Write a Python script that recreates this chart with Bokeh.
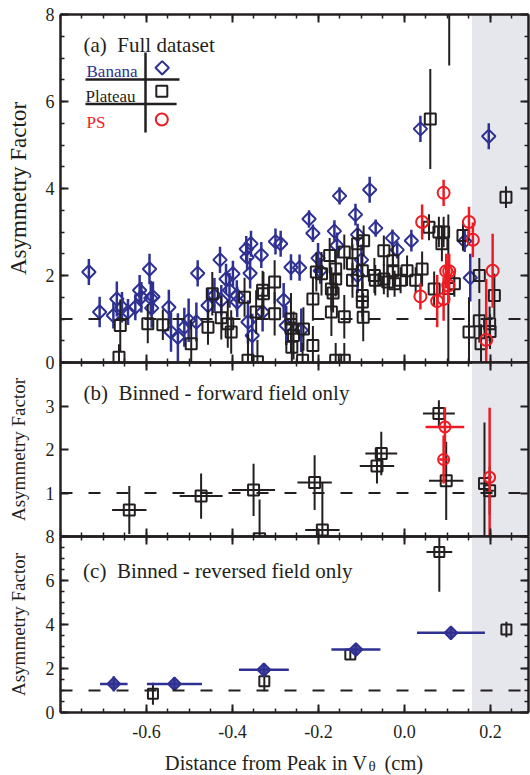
import numpy as np
from bokeh.plotting import figure
from bokeh.models import (LinearAxis, FixedTicker, Range1d, Span, BoxAnnotation,
                          Label, ColumnDataSource, PrintfTickFormatter)
from bokeh.layouts import column
from bokeh.embed import file_html
from bokeh.resources import INLINE
from bokeh.core.properties import value

FONT = "Liberation Serif"
BLUE = "#2E3192"
RED = "#ED1C24"
INK = "#231F20"
SHADE = "#E6E7EC"
NB = "\u00a0"

# ---------------- data ----------------
x_range_vals = (-0.8, 0.2884)
shade_start = 0.157

# Panel (a) full dataset
banana_a_x = [-0.734, -0.709, -0.677, -0.669, -0.657, -0.643, -0.626, -0.616, -0.612, -0.593,
              -0.590, -0.588, -0.585, -0.548, -0.543, -0.527, -0.512, -0.502, -0.484, -0.481,
              -0.457, -0.442, -0.429, -0.426, -0.415, -0.407, -0.399, -0.390, -0.389, -0.368,
              -0.357, -0.366, -0.359, -0.364, -0.354, -0.333, -0.330, -0.300, -0.288, -0.281,
              -0.275, -0.264, -0.244, -0.240, -0.222, -0.213, -0.201, -0.196, -0.163, -0.157,
              -0.151, -0.114, -0.109, -0.100, -0.109, -0.081, -0.067, -0.028, -0.017, 0.016,
              0.037, 0.140, 0.153, 0.196]
banana_a_y = [2.08, 1.16, 1.08, 1.46, 1.27, 1.16, 1.27, 1.66, 1.50, 2.15,
              1.48, 1.25, 1.51, 1.27, 0.70, 0.58, 0.81, 0.97, 0.93, 2.05,
              1.31, 1.54, 2.36, 1.43, 1.92, 1.66, 2.04, 1.54, 1.39, 2.61,
              2.73, 2.42, 2.05, 0.93, 0.62, 2.47, 1.16, 2.78, 2.73, 1.43,
              0.85, 2.19, 2.18, 0.74, 3.30, 2.97, 2.40, 2.11, 3.02, 2.69,
              3.83, 3.40, 2.94, 2.36, 2.00, 3.97, 3.09, 2.86, 2.59, 2.80,
              5.37, 2.79, 1.95, 5.20]
banana_a_err = [0.30, 0.35, 0.30, 0.40, 0.35, 0.30, 0.30, 0.35, 0.35, 0.35,
                0.40, 0.45, 0.35, 0.40, 0.45, 0.55, 0.45, 0.50, 0.45, 0.30,
                0.40, 0.40, 0.30, 0.35, 0.35, 0.40, 0.30, 0.35, 0.35, 0.30,
                0.30, 0.30, 0.35, 0.50, 0.50, 0.30, 0.45, 0.30, 0.30, 0.40,
                0.45, 0.30, 0.30, 0.50, 0.20, 0.20, 0.35, 0.30, 0.25, 0.30,
                0.20, 0.25, 0.25, 0.35, 0.40, 0.30, 0.20, 0.20, 0.20, 0.25,
                0.30, 0.25, 0.55, 0.30]

plateau_a_x = [-0.664, -0.661, -0.597, -0.562, -0.496, -0.457, -0.447, -0.426, -0.411, -0.403,
               -0.372, -0.364, -0.345, -0.342, -0.330, -0.328, -0.302, -0.302, -0.264, -0.264,
               -0.262, -0.258, -0.235, -0.237, -0.213, -0.213, -0.205, -0.193, -0.174, -0.170,
               -0.170, -0.166, -0.160, -0.160, -0.160, -0.140, -0.140, -0.140, -0.121, -0.121,
               -0.109, -0.098, -0.095, -0.098, -0.098, -0.096, -0.070, -0.068, -0.048, -0.048,
               -0.039, -0.027, -0.027, -0.023, -0.009, 0.006, 0.026, 0.041, 0.057, 0.069,
               0.080, 0.091, 0.087, 0.060, 0.104, 0.102, 0.116, 0.136, 0.150, 0.174,
               0.174, 0.178, 0.198, 0.199, 0.209, 0.236]
plateau_a_y = [0.12, 0.85, 0.89, 0.87, 0.43, 0.81, 1.58, 1.03, 0.89, 0.70,
               1.50, 0.05, 1.16, 0.02, 1.66, 1.58, 1.85, 1.12, 1.00, 0.79,
               0.35, 0.62, 0.77, 0.05, 1.46, 0.39, 2.08, 2.04, 2.46, 1.69,
               1.16, 1.60, 2.15, 1.92, 0.05, 2.54, 1.05, 0.05, 2.27, 1.89,
               2.73, 2.11, 2.80, 1.54, 1.39, 1.04, 2.00, 1.89, 2.57, 1.92,
               1.85, 2.34, 2.11, 1.81, 1.89, 2.11, 1.89, 2.15, 3.11, 1.69,
               3.00, 3.00, 2.73, 5.60, 9.50, 1.70, 1.81, 2.92, 0.70, 2.00,
               0.96, 0.43, 0.89, 0.71, 1.54, 3.80]
plateau_a_err = [0.30, 0.60, 0.45, 0.35, 0.55, 0.40, 0.50, 0.50, 0.55, 0.50,
                 0.45, 0.60, 0.50, 0.50, 0.45, 0.50, 0.50, 0.50, 0.60, 0.55,
                 0.50, 0.55, 0.50, 0.40, 0.50, 0.45, 0.45, 0.50, 0.40, 0.50,
                 0.55, 0.45, 0.45, 0.40, 0.40, 0.40, 0.50, 0.40, 0.45, 0.40,
                 0.35, 0.40, 0.35, 0.50, 0.45, 0.55, 0.40, 0.35, 0.35, 0.35,
                 0.35, 0.35, 0.35, 0.30, 0.30, 0.35, 0.30, 0.40, 0.30, 0.40,
                 0.35, 0.35, 0.40, 1.15, 2.67, 1.70, 0.30, 0.35, 0.80, 0.40,
                 0.50, 0.45, 0.40, 0.40, 0.50, 0.25]

ps_a_x = [0.037, 0.041, 0.076, 0.091, 0.091, 0.097, 0.104, 0.102, 0.150, 0.159, 0.190, 0.205]
ps_a_y = [1.52, 3.23, 1.41, 3.90, 1.46, 2.10, 2.10, 1.77, 3.23, 2.82, 0.52, 2.11]
ps_a_err = [0.30, 0.40, 0.60, 0.30, 0.50, 0.40, 0.40, 0.40, 0.35, 0.40, 1.40, 0.85]

# Panel (b) binned, forward field
plateau_b_x = [-0.640, -0.473, -0.351, -0.337, -0.209, -0.191, -0.064, -0.054, 0.080, 0.097, 0.186, 0.198]
plateau_b_y = [0.61, 0.93, 1.07, -0.05, 1.24, 0.15, 1.62, 1.91, 2.83, 1.28, 1.22, 1.05]
plateau_b_xerr = [0.040, 0.050, 0.050, 0.040, 0.040, 0.040, 0.040, 0.037, 0.037, 0.040, 0.010, 0.010]
plateau_b_yerr = [0.55, 0.52, 0.60, 0.90, 0.63, 1.10, 0.40, 0.50, 0.30, 0.90, 1.40, 0.55]
ps_b_x = [0.094, 0.091, 0.198]
ps_b_y = [2.52, 1.77, 1.36]
ps_b_xerr = [0.045, 0.010, 0.005]
ps_b_yerr = [0.45, 0.55, 1.60]

# Panel (c) binned, reversed field
banana_c_x = [-0.676, -0.535, -0.327, -0.113, 0.108]
banana_c_y = [1.30, 1.30, 1.94, 2.86, 3.62]
banana_c_xerr = [0.032, 0.064, 0.058, 0.057, 0.079]
banana_c_yerr = [0.35, 0.30, 0.30, 0.25, 0.20]
plateau_c_x = [-0.585, -0.326, -0.126, 0.081, 0.237]
plateau_c_y = [0.85, 1.42, 2.64, 7.29, 3.77]
plateau_c_xerr = [0.0, 0.0, 0.0, 0.030, 0.0]
plateau_c_yerr = [0.50, 0.45, 0.25, 1.80, 0.35]

x_major = [-0.6, -0.4, -0.2, 0.0, 0.2]
x_minor = [round(v, 2) for v in np.arange(-0.8, 0.2901, 0.05)]
y_major_a = [0, 2, 4, 6, 8]
y_major_b = [1, 2, 3]
y_major_c = [0, 2, 4, 6, 8]
y_minor_8 = [v * 0.5 for v in range(17)]


# ---------------- helpers ----------------
def style_axis(ax, show_labels, size="18px"):
    ax.axis_line_width = 2.5
    ax.axis_line_color = INK
    ax.major_tick_in = 8
    ax.major_tick_out = 0
    ax.minor_tick_in = 4
    ax.minor_tick_out = 0
    ax.major_tick_line_width = 2
    ax.major_tick_line_color = INK
    ax.minor_tick_line_width = 1.5
    ax.minor_tick_line_color = INK
    ax.major_label_text_font = FONT
    if show_labels:
        ax.major_label_text_color = INK
        ax.major_label_text_font_size = size
        ax.major_label_standoff = 6
    else:
        ax.major_label_text_color = None
        ax.major_label_text_font_size = "1px"
        ax.major_label_standoff = 0
    ax.axis_label_text_font = FONT
    ax.axis_label_text_font_style = "normal"
    ax.axis_label_text_color = INK


def make_panel(height, y0, y1, yticks, yminor, top, bottom, x_labels=False,
               ylabel_size="19px", ylabel_standoff=14, overlap=False):
    kw = {}
    if overlap:
        kw["margin"] = (-24, 0, 0, 0)
    p = figure(width=530, height=height, x_range=Range1d(*x_range_vals),
               y_range=Range1d(y0, y1), output_backend="svg", toolbar_location=None,
               x_axis_location=None, y_axis_location=None,
               min_border_left=60, min_border_right=2, min_border_top=top,
               min_border_bottom=bottom, **kw)
    p.grid.visible = False
    p.outline_line_color = None
    if overlap:
        p.background_fill_color = None
        p.border_fill_color = None
    else:
        p.background_fill_color = "white"
        p.border_fill_color = "white"
    xt = FixedTicker(ticks=x_major, minor_ticks=x_minor)
    yt = FixedTicker(ticks=yticks, minor_ticks=yminor)
    left = LinearAxis(ticker=yt, axis_label="Asymmetry Factor")
    style_axis(left, True)
    left.axis_label_text_font_size = ylabel_size
    left.axis_label_standoff = ylabel_standoff
    right = LinearAxis(ticker=yt)
    style_axis(right, False)
    top_ax = LinearAxis(ticker=xt)
    style_axis(top_ax, False)
    bot = LinearAxis(ticker=xt, formatter=PrintfTickFormatter(format="%.1f"))
    style_axis(bot, x_labels)
    if x_labels:
        bot.major_label_standoff = 12
    p.add_layout(left, "left")
    p.add_layout(right, "right")
    p.add_layout(top_ax, "above")
    p.add_layout(bot, "below")
    p.add_layout(BoxAnnotation(left=shade_start, fill_color=SHADE, fill_alpha=1.0,
                               line_color=None, level="underlay"))
    p.add_layout(Span(location=1, dimension="width", line_color=INK, line_width=2,
                      line_dash="12 16"))
    return p


def series(p, xs, ys, yerr, color, marker, size, lw_err, xerr=None, fill=None, angle=0.0):
    xs = np.asarray(xs, float)
    ys = np.asarray(ys, float)
    ye = np.asarray(yerr, float)
    src = ColumnDataSource(dict(x=xs, y=ys, lo=ys - ye, hi=ys + ye))
    p.segment(x0="x", y0="lo", x1="x", y1="hi", source=src, line_color=color, line_width=lw_err)
    if xerr is not None:
        xe = np.asarray(xerr, float)
        src2 = ColumnDataSource(dict(l=xs - xe, r=xs + xe, y=ys))
        p.segment(x0="l", y0="y", x1="r", y1="y", source=src2, line_color=color, line_width=lw_err)
    p.scatter(x="x", y="y", source=src, marker=marker, size=size, angle=angle,
              line_color=color, line_width=2,
              fill_color=fill if fill else None, fill_alpha=0.85 if fill else 0)


def text(p, x, y, s, size, color=INK, align="left", baseline="alphabetic"):
    p.add_layout(Label(x=x, y=y, text=s, text_font=FONT, text_font_size=size,
                       text_color=color, text_align=align, text_baseline=baseline))


# ---------------- panel (a) ----------------
pa = make_panel(374, 0, 8, y_major_a, y_minor_8, 14, 12,
                ylabel_size="23px", ylabel_standoff=12)
series(pa, banana_a_x, banana_a_y, banana_a_err, BLUE, "square", 9.5, 2.5, angle=np.pi / 4)
series(pa, plateau_a_x, plateau_a_y, plateau_a_err, INK, "square", 11, 2)
series(pa, ps_a_x, ps_a_y, ps_a_err, RED, "circle", 12, 2.5)
text(pa, -0.7465, 7.29, "(a)" + NB + NB + "Full dataset", "21px")
# legend table
pa.segment(x0=[-0.6023, -0.7419, -0.7419], y0=[5.287, 6.506, 5.943],
           x1=[-0.6023, -0.5233, -0.530], y1=[7.126, 6.506, 5.943],
           line_color=INK, line_width=2.5)
text(pa, -0.7395, 6.69, "Banana", "17px", BLUE)
text(pa, -0.7419, 6.115, "Plateau", "17px", INK)
text(pa, -0.7395, 5.51, "PS", "17px", RED)
pa.scatter([-0.5635], [6.774], marker="square", angle=np.pi / 4, size=9.5,
           line_color=BLUE, line_width=2, fill_color=None)
pa.scatter([-0.5644], [6.237], marker="square", size=11, line_color=INK,
           line_width=2, fill_color=None)
pa.scatter([-0.5644], [5.586], marker="circle", size=12, line_color=RED,
           line_width=2, fill_color=None)

# ---------------- panel (b) ----------------
pb = make_panel(198, 0, 4, y_major_b, [], 12, 12, overlap=True)
series(pb, plateau_b_x, plateau_b_y, plateau_b_yerr, INK, "square", 11, 2, xerr=plateau_b_xerr)
series(pb, ps_b_x, ps_b_y, ps_b_yerr, RED, "circle", 11, 2.5, xerr=ps_b_xerr)
text(pb, -0.7465, 3.29, "(b)" + NB + NB + "Binned - forward field only", "21px")

# ---------------- panel (c) ----------------
pc = make_panel(220, 0, 8, y_major_c, y_minor_8, 12, 32, x_labels=True, overlap=True)
series(pc, plateau_c_x, plateau_c_y, plateau_c_yerr, INK, "square", 10, 2, xerr=plateau_c_xerr)
series(pc, banana_c_x, banana_c_y, banana_c_yerr, BLUE, "square", 9, 2.5, xerr=banana_c_xerr,
       fill=BLUE, angle=np.pi / 4)
text(pc, -0.7475, 6.45, "(c)" + NB + NB + "Binned - reversed field only", "21px")

# ---------------- x-axis title strip ----------------
ps_ = figure(width=530, height=31, x_range=Range1d(*x_range_vals), y_range=Range1d(0, 31),
             output_backend="svg", toolbar_location=None, x_axis_location=None,
             y_axis_location=None, min_border_left=60, min_border_right=2,
             min_border_top=0, min_border_bottom=0)
ps_.grid.visible = False
ps_.outline_line_color = None
ps_.text(x=[-0.0860], y=[13], text=["Distance from Peak in V"], text_font=value(FONT),
         text_font_size="20.5px", text_color=INK, text_align="right",
         text_baseline="alphabetic")
ps_.text(x=[-0.0837], y=[10], text=["θ"], text_font=value(FONT),
         text_font_size="15px", text_color=INK, text_align="left",
         text_baseline="alphabetic")
ps_.text(x=[-0.0465], y=[13], text=["(cm)"], text_font=value(FONT),
         text_font_size="20.5px", text_color=INK, text_align="left",
         text_baseline="alphabetic")

layout = column(pa, pb, pc, ps_, spacing=0)
open("out.html", "w").write(file_html(layout, INLINE))
